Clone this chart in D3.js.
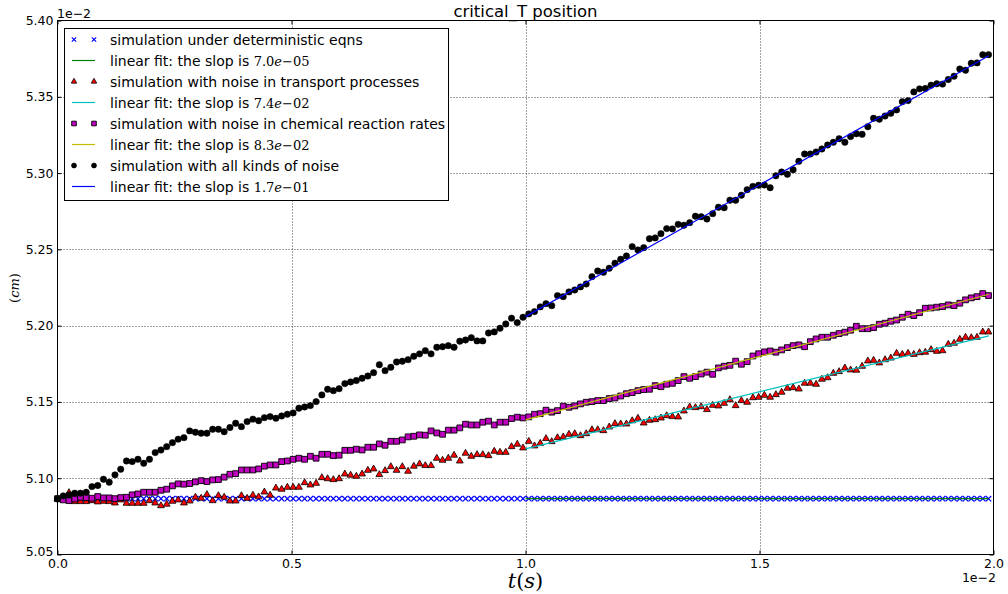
<!DOCTYPE html>
<html>
<head>
<meta charset="utf-8">
<script src="https://cdn.jsdelivr.net/npm/d3@7"></script>
<style>
body { margin: 0; background: #fff; }
text { font-family: "DejaVu Sans", sans-serif; }
</style>
</head>
<body>
<div class="chart"></div>
<script>
// time axis is in units of 1e-2 s, positions in units of 1e-2 cm
const tStep = 0.01228;

const detVals = [
5.0866,5.0866,5.0866,5.0866,5.0866,5.0866,5.0866,5.0866,5.0866,5.0866,
5.0866,5.0866,5.0866,5.0866,5.0866,5.0866,5.0866,5.0866,5.0866,5.0866,
5.0866,5.0866,5.0866,5.0866,5.0866,5.0866,5.0866,5.0866,5.0866,5.0866,
5.0866,5.0866,5.0866,5.0866,5.0866,5.0866,5.0866,5.0866,5.0866,5.0866,
5.0866,5.0866,5.0866,5.0866,5.0866,5.0866,5.0866,5.0866,5.0866,5.0866,
5.0866,5.0866,5.0866,5.0866,5.0866,5.0866,5.0866,5.0866,5.0866,5.0866,
5.0866,5.0866,5.0866,5.0866,5.0866,5.0866,5.0866,5.0866,5.0866,5.0866,
5.0866,5.0866,5.0866,5.0866,5.0866,5.0866,5.0866,5.0866,5.0866,5.0866,
5.0866,5.0866,5.0866,5.0866,5.0866,5.0866,5.0866,5.0866,5.0866,5.0866,
5.0866,5.0866,5.0866,5.0866,5.0866,5.0866,5.0866,5.0866,5.0866,5.0866,
5.0866,5.0866,5.0866,5.0866,5.0866,5.0866,5.0866,5.0866,5.0866,5.0866,
5.0866,5.0866,5.0866,5.0866,5.0866,5.0866,5.0866,5.0866,5.0866,5.0866,
5.0866,5.0866,5.0866,5.0866,5.0866,5.0866,5.0866,5.0866,5.0866,5.0866,
5.0866,5.0866,5.0866,5.0866,5.0866,5.0866,5.0866,5.0866,5.0866,5.0866,
5.0866,5.0866,5.0866,5.0866,5.0866,5.0866,5.0866,5.0866,5.0866,5.0866,
5.0866,5.0866,5.0866,5.0866,5.0866,5.0866,5.0866,5.0866,5.0866,5.0866,
5.0866,5.0866,5.0866
];

const transVals = [
5.0866,5.0858,5.0906,5.0847,5.0847,5.0847,5.0853,5.0845,5.0849,5.0847,
5.0838,5.0858,5.0836,5.0836,5.0836,5.0836,5.0853,5.0838,5.0820,5.0830,
5.0849,5.0858,5.0838,5.0851,5.0876,5.0869,5.0893,5.0853,5.0886,5.0876,
5.0851,5.0851,5.0886,5.0869,5.0889,5.0878,5.0910,5.0889,5.0936,5.0928,
5.0941,5.0941,5.0941,5.0971,5.0956,5.0967,5.1004,5.0997,5.0991,5.0997,
5.1028,5.1020,5.1013,5.1028,5.1052,5.1061,5.1024,5.1050,5.1076,5.1052,
5.1076,5.1046,5.1079,5.1094,5.1083,5.1083,5.1131,5.1118,5.1131,5.1151,
5.1113,5.1164,5.1144,5.1155,5.1155,5.1148,5.1177,5.1170,5.1170,5.1207,
5.1223,5.1199,
5.1242,5.1212,5.1229,5.1260,5.1240,5.1266,5.1271,5.1288,5.1292,5.1279,
5.1292,5.1318,5.1318,5.1312,5.1336,5.1358,5.1356,5.1356,5.1377,5.1393,
5.1362,5.1380,5.1384,5.1395,5.1410,5.1404,5.1402,5.1441,5.1467,5.1463,
5.1469,5.1450,5.1478,5.1474,5.1491,5.1515,5.1476,5.1509,5.1498,5.1528,
5.1531,
5.1544,5.1531,5.1548,5.1564,5.1590,5.1594,5.1585,5.1623,5.1623,5.1616,
5.1649,5.1659,5.1688,5.1699,5.1723,5.1710,5.1708,5.1734,5.1769,5.1773,
5.1756,5.1777,5.1788,5.1819,5.1812,5.1819,5.1812,5.1823,5.1826,5.1843,
5.1832,5.1836,5.1878,5.1885,5.1911,5.1924,5.1921,5.1924,5.1959,5.1959
];

const chemVals = [
5.0866,5.0858,5.0853,5.0864,5.0875,5.0873,5.0869,5.0880,5.0871,5.0871,
5.0866,5.0873,5.0875,5.0891,5.0897,5.0908,5.0908,5.0908,5.0921,5.0928,
5.0950,5.0963,5.0961,5.0965,5.0976,5.0984,5.0978,5.0989,5.0991,5.1007,
5.1026,5.1030,5.1054,5.1054,5.1054,5.1061,5.1079,5.1087,5.1087,5.1109,
5.1113,5.1124,5.1131,5.1124,5.1144,5.1131,5.1157,5.1157,5.1148,5.1151,
5.1183,5.1183,5.1190,5.1185,5.1203,5.1203,5.1225,5.1216,5.1242,5.1242,
5.1251,5.1271,5.1275,5.1284,5.1282,5.1310,5.1297,5.1288,5.1315,5.1315,
5.1330,5.1354,5.1349,5.1349,5.1367,5.1374,5.1349,5.1367,5.1367,5.1391,
5.1400,5.1395,
5.1402,5.1419,5.1423,5.1446,5.1433,5.1443,5.1472,5.1465,5.1474,5.1487,
5.1498,5.1502,5.1509,5.1509,5.1522,5.1526,5.1539,5.1554,5.1561,5.1574,
5.1581,5.1583,5.1607,5.1600,5.1616,5.1622,5.1640,5.1666,5.1655,5.1666,
5.1683,5.1695,5.1681,5.1723,5.1734,5.1740,5.1767,5.1747,5.1764,5.1801,
5.1816,
5.1828,5.1834,5.1826,5.1841,5.1856,5.1869,5.1874,5.1862,5.1895,5.1913,
5.1924,5.1924,5.1937,5.1948,5.1957,5.1970,5.1996,5.1980,5.1980,5.1987,
5.2009,5.2016,5.2029,5.2037,5.2055,5.2075,5.2066,5.2085,5.2114,5.2116,
5.2121,5.2125,5.2136,5.2131,5.2147,5.2169,5.2182,5.2190,5.2210,5.2197
];

const allVals = [
5.0864,5.0884,5.0891,5.0902,5.0902,5.0908,5.0945,5.0952,5.0993,5.0974,
5.1022,5.1059,5.1113,5.1109,5.1124,5.1098,5.1124,5.1168,5.1185,5.1207,
5.1233,5.1256,5.1266,5.1310,5.1301,5.1295,5.1295,5.1321,5.1321,5.1305,
5.1332,5.1360,5.1338,5.1371,5.1387,5.1377,5.1397,5.1404,5.1393,5.1408,
5.1419,5.1428,5.1459,5.1467,5.1476,5.1502,5.1546,5.1583,5.1574,5.1587,
5.1620,5.1631,5.1640,5.1655,5.1670,5.1692,5.1744,5.1705,5.1727,5.1762,
5.1767,5.1777,5.1799,5.1815,5.1836,5.1815,5.1858,5.1862,5.1869,5.1858,
5.1898,5.1906,5.1921,5.1900,5.1900,5.1952,5.1959,5.1983,5.2011,5.2049,
5.2020,5.2055,
5.2077,5.2092,5.2123,5.2144,5.2131,5.2197,5.2190,5.2221,5.2234,5.2254,
5.2273,5.2321,5.2358,5.2350,5.2376,5.2409,5.2435,5.2457,5.2518,5.2496,
5.2511,5.2570,5.2575,5.2603,5.2636,5.2634,5.2664,5.2658,5.2675,5.2717,
5.2714,5.2699,5.2734,5.2776,5.2773,5.2822,5.2822,5.2855,5.2891,5.2913,
5.2920,
5.2922,5.2904,5.2982,5.3007,5.2992,5.3022,5.3077,5.3125,5.3125,5.3138,
5.3158,5.3184,5.3202,5.3225,5.3202,5.3239,5.3258,5.3254,5.3304,5.3359,
5.3353,5.3374,5.3392,5.3414,5.3468,5.3475,5.3532,5.3552,5.3554,5.3576,
5.3585,5.3583,5.3613,5.3635,5.3682,5.3674,5.3720,5.3722,5.3776,5.3776
];

// linear fits over the second half: [start, end]
const fitT = [1.0, 1.99];
const fitDet = [5.0866, 5.0866];
const fitTrans = [5.1192, 5.1933];
const fitChem = [5.1382, 5.2206];
const fitAll = [5.2059, 5.3769];

const xTicks = [0.0, 0.5, 1.0, 1.5, 2.0];
const yTicks = [5.05, 5.10, 5.15, 5.20, 5.25, 5.30, 5.35, 5.40];

const legendLabels = [
	['simulation under deterministic eqns'],
	['linear fit: the slop is ', '7.0', '\u221205'],
	['simulation with noise in transport processes'],
	['linear fit: the slop is ', '7.4', '\u221202'],
	['simulation with noise in chemical reaction rates'],
	['linear fit: the slop is ', '8.3', '\u221202'],
	['simulation with all kinds of noise'],
	['linear fit: the slop is ', '1.7', '\u221201']
];

let W = 1008, H = 594;
let pL = 57.5, pR = 993.5, pT = 20.5, pB = 554.5;

let svg = d3.select('.chart')
	.append('svg')
	.attr('width', W)
	.attr('height', H)
	.style('display', 'block');

let x = d3.scaleLinear().domain([0, 2.0]).range([pL, pR]);
let y = d3.scaleLinear().domain([5.05, 5.40]).range([pB, pT]);

// grid
let grid = svg.append('g')
	.attr('stroke', '#333')
	.attr('stroke-width', 0.9)
	.attr('stroke-dasharray', '1,2');
grid.selectAll('.gx').data(xTicks.slice(1, -1)).enter().append('line')
	.attr('x1', d => Math.round(x(d)) + 0.5).attr('x2', d => Math.round(x(d)) + 0.5)
	.attr('y1', pT).attr('y2', pB);
grid.selectAll('.gy').data(yTicks.slice(1, -1)).enter().append('line')
	.attr('y1', d => Math.round(y(d)) + 0.5).attr('y2', d => Math.round(y(d)) + 0.5)
	.attr('x1', pL).attr('x2', pR);

let plot = svg.append('g');

let markers = {
	x: s => `M${-s},${-s}L${s},${s}M${-s},${s}L${s},${-s}`,
	tri: s => `M0,${-s * 1.15}L${s},${s * 0.6}L${-s},${s * 0.6}Z`,
	sq: s => `M${-s},${-s}H${s}V${s}H${-s}Z`,
	dot: s => `M${s},0A${s},${s} 0 1,1 ${-s},0A${s},${s} 0 1,1 ${s},0Z`
};

let series = [
	{vals: detVals, fit: fitDet, shape: 'x', size: 2.7, fill: 'none', stroke: '#0000ff', sw: 1.2, line: '#008000'},
	{vals: transVals, fit: fitTrans, shape: 'tri', size: 3.4, fill: '#ff0000', stroke: '#000', sw: 0.8, line: '#00bfbf'},
	{vals: chemVals, fit: fitChem, shape: 'sq', size: 2.9, fill: '#bf00bf', stroke: '#000', sw: 0.9, line: '#bfbf00'},
	{vals: allVals, fit: fitAll, shape: 'dot', size: 3.2, fill: '#000', stroke: '#000', sw: 0.5, line: '#0000ff'}
];

let fitLine = d3.line().x(d => x(d[0])).y(d => y(d[1]));

series.forEach(s => {
	let pts = s.vals.map((v, i) => [i * tStep, v]);
	plot.append('g').selectAll('path').data(pts).enter().append('path')
		.attr('transform', d => 'translate(' + x(d[0]) + ',' + y(d[1]) + ')')
		.attr('d', markers[s.shape](s.size))
		.attr('fill', s.fill)
		.attr('stroke', s.stroke)
		.attr('stroke-width', s.sw);
	plot.append('path')
		.datum(fitT.map((t, i) => [t, s.fit[i]]))
		.attr('d', fitLine)
		.attr('fill', 'none')
		.attr('stroke', s.line)
		.attr('stroke-width', 1.2);
});

// axes, ticks pointing inward on all four sides
let fmtX = d3.format('.1f'), fmtY = d3.format('.2f');
function styleAxis(g) {
	g.select('.domain').remove();
	g.selectAll('line').attr('stroke', '#000');
	g.selectAll('text').attr('fill', '#000').style('font-size', '12.5px').style('font-family', '"DejaVu Sans", sans-serif');
}
svg.append('g').attr('transform', 'translate(0,' + pB + ')')
	.call(d3.axisBottom(x).tickValues(xTicks).tickFormat(fmtX).tickSizeInner(-4).tickSizeOuter(0).tickPadding(5))
	.call(styleAxis);
svg.append('g').attr('transform', 'translate(0,' + pT + ')')
	.call(d3.axisTop(x).tickValues(xTicks).tickFormat('').tickSizeInner(-4).tickSizeOuter(0))
	.call(styleAxis);
let yAxisG = svg.append('g').attr('transform', 'translate(' + pL + ',0)')
	.call(d3.axisLeft(y).tickValues(yTicks).tickFormat(fmtY).tickSizeInner(-4).tickSizeOuter(0).tickPadding(4))
	.call(styleAxis);
// lift the bottom label a little so it clears the "0.0" below it
yAxisG.selectAll('text').filter(d => d === 5.05).attr('y', -3);
svg.append('g').attr('transform', 'translate(' + pR + ',0)')
	.call(d3.axisRight(y).tickValues(yTicks).tickFormat('').tickSizeInner(-4).tickSizeOuter(0))
	.call(styleAxis);

svg.append('rect')
	.attr('x', pL).attr('y', pT)
	.attr('width', pR - pL).attr('height', pB - pT)
	.attr('fill', 'none').attr('stroke', '#000').attr('stroke-width', 1);

// offset labels
svg.append('text').attr('x', 57).attr('y', 18).style('font-size', '12.5px').text('1e\u22122');
svg.append('text').attr('x', 996).attr('y', 582).attr('text-anchor', 'end').style('font-size', '12.5px').text('1e\u22122');

// title and axis labels
svg.append('text').attr('x', (pL + pR) / 2).attr('y', 17).attr('text-anchor', 'middle')
	.style('font-size', '16.5px').text('critical_T position');

let xl = svg.append('text').attr('x', (pL + pR) / 2).attr('y', 588).attr('text-anchor', 'middle')
	.style('font-family', '"DejaVu Serif", serif').style('font-size', '21px');
xl.append('tspan').style('font-style', 'italic').text('t');
xl.append('tspan').text('(');
xl.append('tspan').style('font-style', 'italic').text('s');
xl.append('tspan').text(')');

let yl = svg.append('text').attr('transform', 'translate(19,288) rotate(-90)').attr('text-anchor', 'middle')
	.style('font-family', '"DejaVu Serif", serif').style('font-size', '13px');
yl.append('tspan').text('(');
yl.append('tspan').style('font-style', 'italic').text('cm');
yl.append('tspan').text(')');

// legend
let lg = svg.append('g');
lg.append('rect').attr('x', 64.5).attr('y', 28.5).attr('width', 384).attr('height', 172)
	.attr('fill', '#fff').attr('stroke', '#000').attr('stroke-width', 1);
legendLabels.forEach((lab, i) => {
	let s = series[Math.floor(i / 2)];
	let cy = 39.5 + i * 21;
	if (i % 2 === 0) {
		[74, 94].forEach(cx => {
			lg.append('path').attr('transform', 'translate(' + cx + ',' + cy + ')')
				.attr('d', markers[s.shape](s.size * 0.8))
				.attr('fill', s.fill).attr('stroke', s.stroke).attr('stroke-width', s.sw);
		});
	} else {
		lg.append('line').attr('x1', 72).attr('x2', 95).attr('y1', cy).attr('y2', cy)
			.attr('stroke', s.line).attr('stroke-width', 1.2);
	}
	let t = lg.append('text').attr('x', 110).attr('y', cy + 5).style('font-size', '14px');
	t.append('tspan').text(lab[0]);
	if (lab.length > 1) {
		t.append('tspan').style('font-family', '"DejaVu Serif", serif').style('font-size', '13px').text(lab[1]);
		t.append('tspan').style('font-family', '"DejaVu Serif", serif').style('font-size', '13px').style('font-style', 'italic').text('e');
		t.append('tspan').style('font-family', '"DejaVu Serif", serif').style('font-size', '13px').text(lab[2]);
	}
});
</script>
</body>
</html>
